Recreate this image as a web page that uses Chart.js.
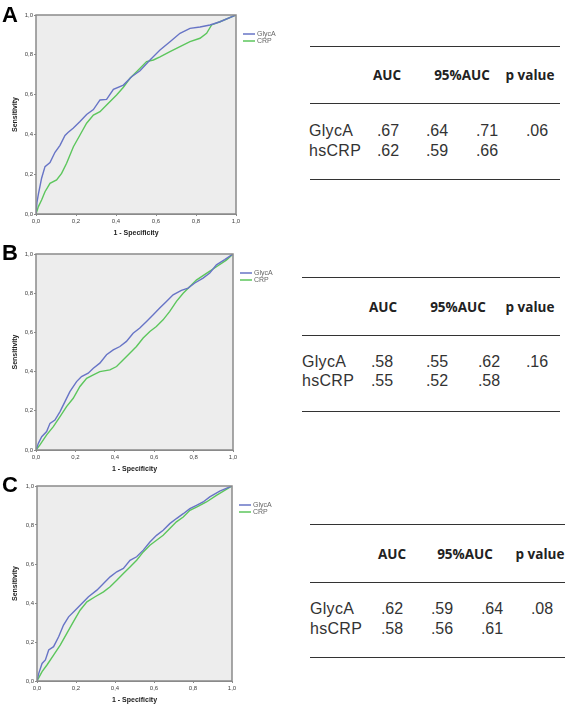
<!DOCTYPE html>
<html lang="en">
<head>
<meta charset="UTF-8">
<title>ROC curves GlycA vs hsCRP</title>
<script src="https://cdn.jsdelivr.net/npm/chart.js"></script>
<style>
    body { margin: 0; padding: 0; background: #fff; font-family: "Liberation Sans", Arial, sans-serif; }
    #page { position: relative; width: 567px; height: 707px; overflow: hidden; }
    canvas { position: absolute; left: 0; }
    .letter { position: absolute; left: 2px; font: bold 22px "Liberation Sans", Arial, sans-serif; color: #000; line-height: 1; }
    .rule { position: absolute; height: 0; border-top: 1.5px solid #333; }
    .head { position: absolute; font: bold 13.5px "Open Sans", sans-serif; color: #222; transform: translate(-50%, -50%); white-space: nowrap; }
    .cell { position: absolute; font: 16px "Liberation Sans", Arial, sans-serif; color: #333; transform: translate(-50%, -50%); white-space: nowrap; }
    .rowlab { position: absolute; font: 16px "Liberation Sans", Arial, sans-serif; color: #333; transform: translateY(-50%); white-space: nowrap; letter-spacing: 0.3px; }
</style>
</head>
<body>
<div id="page">
    <canvas id="rocA" width="290" height="240" style="top:0px"></canvas>
    <canvas id="rocB" width="290" height="236" style="top:240px"></canvas>
    <canvas id="rocC" width="290" height="231" style="top:476px"></canvas>
</div>
<script>
// --- data ---
const seriesNames = ["GlycA", "CRP"];
const ticks = [0, 0.2, 0.4, 0.6, 0.8, 1.0];

// panel A
const aGlycaX = [0, 0.005, 0.012, 0.028, 0.045, 0.07, 0.095, 0.12, 0.145, 0.16, 0.187, 0.22, 0.253, 0.287, 0.32, 0.353, 0.387, 0.437, 0.478, 0.52, 0.57, 0.62, 0.67, 0.72, 0.77, 0.82, 0.87, 0.92, 1];
const aGlycaY = [0, 0.06, 0.1, 0.18, 0.238, 0.258, 0.31, 0.345, 0.395, 0.41, 0.432, 0.465, 0.5, 0.525, 0.573, 0.576, 0.626, 0.648, 0.69, 0.72, 0.774, 0.824, 0.866, 0.908, 0.933, 0.94, 0.95, 0.966, 1];
const aCrpX = [0, 0.012, 0.028, 0.045, 0.07, 0.103, 0.128, 0.153, 0.187, 0.22, 0.253, 0.287, 0.32, 0.353, 0.403, 0.437, 0.47, 0.503, 0.553, 0.587, 0.62, 0.67, 0.72, 0.77, 0.82, 0.853, 0.878, 0.92, 1];
const aCrpY = [0, 0.037, 0.07, 0.112, 0.154, 0.171, 0.204, 0.255, 0.338, 0.397, 0.456, 0.497, 0.514, 0.548, 0.598, 0.637, 0.682, 0.715, 0.766, 0.774, 0.79, 0.816, 0.841, 0.866, 0.883, 0.908, 0.95, 0.966, 1];

// panel B
const bGlycaX = [0, 0.012, 0.029, 0.054, 0.071, 0.096, 0.122, 0.147, 0.172, 0.206, 0.231, 0.265, 0.291, 0.324, 0.358, 0.392, 0.426, 0.459, 0.493, 0.527, 0.561, 0.595, 0.628, 0.662, 0.696, 0.738, 0.772, 0.806, 0.848, 0.882, 0.916, 0.958, 1];
const bGlycaY = [0, 0.034, 0.068, 0.094, 0.136, 0.153, 0.196, 0.247, 0.298, 0.349, 0.375, 0.392, 0.417, 0.443, 0.486, 0.511, 0.528, 0.554, 0.596, 0.622, 0.656, 0.69, 0.724, 0.758, 0.792, 0.814, 0.826, 0.852, 0.877, 0.903, 0.945, 0.971, 1];
const bCrpX = [0, 0.02, 0.054, 0.088, 0.122, 0.155, 0.189, 0.223, 0.257, 0.291, 0.324, 0.375, 0.409, 0.443, 0.476, 0.51, 0.544, 0.578, 0.611, 0.645, 0.679, 0.713, 0.747, 0.78, 0.814, 0.865, 0.916, 0.966, 1];
const bCrpY = [0, 0.026, 0.077, 0.119, 0.17, 0.221, 0.264, 0.324, 0.366, 0.383, 0.4, 0.409, 0.426, 0.46, 0.494, 0.528, 0.571, 0.605, 0.63, 0.664, 0.707, 0.758, 0.8, 0.833, 0.867, 0.901, 0.935, 0.969, 1];

// panel C
const cGlycaX = [0, 0.009, 0.026, 0.043, 0.06, 0.085, 0.111, 0.136, 0.162, 0.196, 0.23, 0.264, 0.307, 0.341, 0.375, 0.409, 0.443, 0.477, 0.511, 0.545, 0.579, 0.613, 0.647, 0.681, 0.715, 0.75, 0.784, 0.818, 0.852, 0.886, 0.937, 1];
const cGlycaY = [0, 0.039, 0.09, 0.108, 0.159, 0.176, 0.227, 0.287, 0.329, 0.363, 0.398, 0.432, 0.466, 0.5, 0.534, 0.56, 0.577, 0.619, 0.637, 0.671, 0.713, 0.747, 0.773, 0.807, 0.833, 0.858, 0.884, 0.901, 0.918, 0.944, 0.974, 1];
const cCrpX = [0, 0.026, 0.051, 0.085, 0.119, 0.153, 0.187, 0.221, 0.256, 0.298, 0.341, 0.375, 0.409, 0.443, 0.477, 0.511, 0.545, 0.579, 0.613, 0.647, 0.681, 0.715, 0.75, 0.784, 0.818, 0.869, 0.92, 1];
const cCrpY = [0, 0.048, 0.082, 0.133, 0.184, 0.244, 0.304, 0.363, 0.406, 0.432, 0.457, 0.483, 0.517, 0.551, 0.585, 0.619, 0.662, 0.696, 0.722, 0.747, 0.782, 0.816, 0.841, 0.875, 0.892, 0.918, 0.952, 1];

// tables
const panelLetters = ["A", "B", "C"];
const tableHeads = ["AUC", "95%AUC", "p value"];
const rowLabels = ["GlycA", "hsCRP"];
const aucVals = [[0.67, 0.62], [0.58, 0.55], [0.62, 0.58]];
const ciLow = [[0.64, 0.59], [0.55, 0.52], [0.59, 0.56]];
const ciHigh = [[0.71, 0.66], [0.62, 0.58], [0.64, 0.61]];
const pVals = [0.06, 0.16, 0.08];

// --- layout (pixels) ---
const panels = [
    { id: "rocA", gx: aGlycaX, gy: aGlycaY, cx: aCrpX, cy: aCrpY, padTop: 15, left: 36, right: 236, xh: 26, letterY: 4,
      tbl: { x1: 310, x2: 560, lines: [46, 103, 179], headY: 75, rows: [131, 151], lab: 309, cols: [388, 437, 487, 537], heads: [387, 462, 530] } },
    { id: "rocB", gx: bGlycaX, gy: bGlycaY, cx: bCrpX, cy: bCrpY, padTop: 14, left: 36, right: 233, xh: 26, letterY: 242,
      tbl: { x1: 302, x2: 560, lines: [277, 335, 411], headY: 307, rows: [362, 381], lab: 302, cols: [382, 437, 489, 537], heads: [383, 458, 530] } },
    { id: "rocC", gx: cGlycaX, gy: cGlycaY, cx: cCrpX, cy: cCrpY, padTop: 10, left: 37, right: 232, xh: 26, letterY: 474,
      tbl: { x1: 310, x2: 565, lines: [524, 582, 657], headY: 554, rows: [609, 629], lab: 310, cols: [392, 442, 492, 542], heads: [392, 465, 540] } }
];

const blue = "#6774c6";
const green = "#5cc65c";

function pts(xs, ys) { return xs.map((x, i) => ({ x: x, y: ys[i] })); }
function fmt(v) { return v.toFixed(2).replace(/^0/, ""); }

const plotFrame = {
    id: "plotFrame",
    beforeDatasetsDraw(chart) {
        const a = chart.chartArea, ctx = chart.ctx;
        ctx.save();
        ctx.fillStyle = "#ededed";
        ctx.fillRect(a.left, a.top, a.right - a.left, a.bottom - a.top);
        ctx.restore();
    },
    afterDraw(chart) {
        const a = chart.chartArea, ctx = chart.ctx;
        ctx.save();
        ctx.strokeStyle = "#8a8a8a";
        ctx.lineWidth = 1.5;
        ctx.strokeRect(a.left, a.top, a.right - a.left, a.bottom - a.top);
        // legend to the right of the plot
        ctx.font = "7px 'Liberation Sans', Arial, sans-serif";
        ctx.textBaseline = "middle";
        chart.data.datasets.forEach((ds, i) => {
            const y = a.top + 19 + i * 7;
            ctx.strokeStyle = ds.borderColor;
            ctx.lineWidth = 1.5;
            ctx.beginPath();
            ctx.moveTo(a.right + 7, y);
            ctx.lineTo(a.right + 19, y);
            ctx.stroke();
            ctx.fillStyle = "#666";
            ctx.fillText(ds.label, a.right + 21, y);
        });
        ctx.restore();
    }
};

panels.forEach((p, k) => {
    new Chart(document.getElementById(p.id), {
        type: "scatter",
        data: {
            datasets: [
                { label: seriesNames[0], data: pts(p.gx, p.gy), showLine: true, borderColor: blue, borderWidth: 1.4, pointRadius: 0, tension: 0 },
                { label: seriesNames[1], data: pts(p.cx, p.cy), showLine: true, borderColor: green, borderWidth: 1.4, pointRadius: 0, tension: 0 }
            ]
        },
        options: {
            responsive: false,
            animation: false,
            layout: { padding: { top: p.padTop, right: 290 - p.right, left: 0, bottom: 0 } },
            plugins: { legend: { display: false }, tooltip: { enabled: false } },
            scales: {
                x: {
                    type: "linear", min: 0, max: 1,
                    afterFit: s => { s.height = p.xh; },
                    afterBuildTicks: s => { s.ticks = ticks.map(v => ({ value: v })); },
                    ticks: { padding: 2, color: "#444", font: { size: 6, family: "'Liberation Sans', Arial" }, callback: v => v.toFixed(1).replace(".", ","), maxRotation: 0 },
                    grid: { drawOnChartArea: false, tickLength: 2, color: "#888" },
                    border: { color: "#888" },
                    title: { display: true, text: "1 - Specificity", color: "#222", font: { size: 7, weight: "bold", family: "'Liberation Sans', Arial" }, padding: { top: 0, bottom: 2.8 } }
                },
                y: {
                    type: "linear", min: 0, max: 1,
                    afterFit: s => { s.width = p.left; },
                    afterBuildTicks: s => { s.ticks = ticks.map(v => ({ value: v })); },
                    ticks: { padding: 1, color: "#444", font: { size: 6, family: "'Liberation Sans', Arial" }, callback: v => v.toFixed(1).replace(".", ",") },
                    grid: { drawOnChartArea: false, tickLength: 2, color: "#888" },
                    border: { color: "#888" },
                    title: { display: true, text: "Sensitivity", color: "#222", font: { size: 7, weight: "bold", family: "'Liberation Sans', Arial" }, padding: { top: 11, bottom: 0 } }
                }
            }
        },
        plugins: [plotFrame]
    });

    // panel letter and AUC table
    const page = document.getElementById("page");
    const add = (cls, text, x, y, extra) => {
        const d = document.createElement("div");
        d.className = cls;
        d.textContent = text;
        d.style.left = x + "px";
        d.style.top = y + "px";
        if (extra) Object.assign(d.style, extra);
        page.appendChild(d);
        return d;
    };
    add("letter", panelLetters[k], 2, p.letterY);
    const t = p.tbl;
    t.lines.forEach(y => add("rule", "", t.x1, y, { width: (t.x2 - t.x1) + "px" }));
    tableHeads.forEach((h, j) => add("head", h, t.heads[j], t.headY));
    rowLabels.forEach((lab, r) => {
        const y = t.rows[r];
        add("rowlab", lab, t.lab, y);
        add("cell", fmt(aucVals[k][r]), t.cols[0], y);
        add("cell", fmt(ciLow[k][r]), t.cols[1], y);
        add("cell", fmt(ciHigh[k][r]), t.cols[2], y);
        if (r === 0) add("cell", fmt(pVals[k]), t.cols[3], y);
    });
});
</script>
</body>
</html>
